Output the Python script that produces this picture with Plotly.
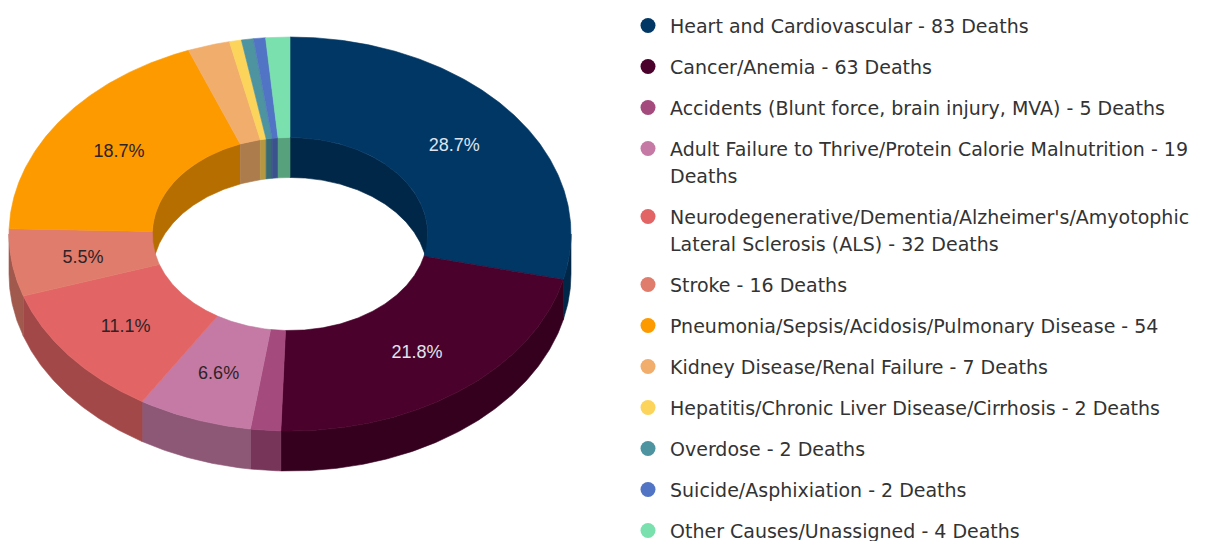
import numpy as np
import plotly.graph_objects as go

# ---------------- data ----------------
categories = [
    "Heart and Cardiovascular",
    "Cancer/Anemia",
    "Accidents (Blunt force, brain injury, MVA)",
    "Adult Failure to Thrive/Protein Calorie Malnutrition",
    "Neurodegenerative/Dementia/Alzheimer's/Amyotophic Lateral Sclerosis (ALS)",
    "Stroke",
    "Pneumonia/Sepsis/Acidosis/Pulmonary Disease",
    "Kidney Disease/Renal Failure",
    "Hepatitis/Chronic Liver Disease/Cirrhosis",
    "Overdose",
    "Suicide/Asphixiation",
    "Other Causes/Unassigned",
]
deaths = [83, 63, 5, 19, 32, 16, 54, 7, 2, 2, 2, 4]
legend_lines = [
    ["Heart and Cardiovascular - 83 Deaths"],
    ["Cancer/Anemia - 63 Deaths"],
    ["Accidents (Blunt force, brain injury, MVA) - 5 Deaths"],
    ["Adult Failure to Thrive/Protein Calorie Malnutrition - 19", "Deaths"],
    ["Neurodegenerative/Dementia/Alzheimer's/Amyotophic", "Lateral Sclerosis (ALS) - 32 Deaths"],
    ["Stroke - 16 Deaths"],
    ["Pneumonia/Sepsis/Acidosis/Pulmonary Disease - 54"],
    ["Kidney Disease/Renal Failure - 7 Deaths"],
    ["Hepatitis/Chronic Liver Disease/Cirrhosis - 2 Deaths"],
    ["Overdose - 2 Deaths"],
    ["Suicide/Asphixiation - 2 Deaths"],
    ["Other Causes/Unassigned - 4 Deaths"],
]
colors = ["#013764", "#4a012b", "#a44a7c", "#c57aa5", "#e26464", "#e07c6c",
          "#fd9a00", "#f1ad6b", "#fcd35b", "#4e94a0", "#5274c4", "#79e0ae"]

# ---------------- geometry (layout) ----------------
W, H = 1208, 541
PAD = 8  # default page body margin; axes ranges compensate so data units = page pixels
CX, CY = 290.0, 234.0
RX, RY = 281.0, 197.0
HOLE = 0.49
DEPTH = 40.0
SHADE = 0.72
LABEL_K = 0.745
LABEL_DY = 3.0
MIN_LABEL_PCT = 5.0


def darker(hexcol, f):
    h = hexcol.lstrip("#")
    r, g, b = (int(h[i:i + 2], 16) for i in (0, 2, 4))
    return "rgb(%d,%d,%d)" % (r * f, g * f, b * f)


def pt(theta_deg, k, dy=0.0):
    t = np.radians(theta_deg)
    return CX + k * RX * np.sin(t), CY - k * RY * np.cos(t) + dy


def arc(a0, a1, k, dy=0.0, n=None):
    if n is None:
        n = max(4, int(abs(a1 - a0) * 2) + 2)
    th = np.linspace(a0, a1, n)
    return pt(th, k, dy)


def overlap(a0, a1, b0, b1):
    s, e = max(a0, b0), min(a1, b1)
    return (s, e) if e > s else None


total = float(sum(deaths))
cum = np.concatenate([[0.0], np.cumsum(deaths)]) / total * 360.0

fig = go.Figure()


def add_poly(xs, ys, color):
    fig.add_trace(go.Scatter(
        x=list(xs) + [xs[0]], y=list(ys) + [ys[0]], mode="lines", fill="toself",
        fillcolor=color, line=dict(color=color, width=0.6),
        hoverinfo="skip", showlegend=False))


# 1) outer side walls (front half: 90..270 deg)
for i, c in enumerate(colors):
    ov = overlap(cum[i], cum[i + 1], 90.0, 270.0)
    if ov:
        x1, y1 = arc(ov[0], ov[1], 1.0)
        x2, y2 = arc(ov[1], ov[0], 1.0, DEPTH)
        add_poly(np.concatenate([x1, x2]), np.concatenate([y1, y2]), darker(c, SHADE))

# 2) inner walls (back half: 270..450 deg, i.e. -90..90)
for i, c in enumerate(colors):
    for b0, b1 in ((270.0, 450.0), (-90.0, 90.0)):
        ov = overlap(cum[i], cum[i + 1], b0, b1)
        if ov:
            x1, y1 = arc(ov[0], ov[1], HOLE)
            x2, y2 = arc(ov[1], ov[0], HOLE, DEPTH)
            add_poly(np.concatenate([x1, x2]), np.concatenate([y1, y2]), darker(c, SHADE))

# 3) top faces
for i, c in enumerate(colors):
    x1, y1 = arc(cum[i], cum[i + 1], 1.0)
    x2, y2 = arc(cum[i + 1], cum[i], HOLE)
    add_poly(np.concatenate([x1, x2]), np.concatenate([y1, y2]), c)

# 4) percentage labels
lx, ly, lt, lc = [], [], [], []
for i, v in enumerate(deaths):
    pct = v / total * 100
    if pct >= MIN_LABEL_PCT:
        mid = (cum[i] + cum[i + 1]) / 2
        x, y = pt(mid, LABEL_K, LABEL_DY)
        lx.append(x); ly.append(y); lt.append("%.1f%%" % pct)
        lc.append("#dfe4ee" if i < 2 else "#2e2326")
fig.add_trace(go.Scatter(
    x=lx, y=ly, text=lt, mode="text",
    textfont=dict(family="Liberation Sans, Arial, sans-serif", size=18, color=lc),
    hoverinfo="skip", showlegend=False))

# 5) legend (markers + text)
LEG_MX, LEG_TX = 648.0, 668.0
LEG_Y0, LEG_PITCH, LEG_LINE = 25.5, 41.0, 27.0
mx, my = [], []
y = LEG_Y0
for i, lines in enumerate(legend_lines):
    mx.append(LEG_MX); my.append(y)
    for j, line in enumerate(lines):
        fig.add_annotation(
            x=LEG_TX, y=y + j * LEG_LINE, xref="x", yref="y", text=line,
            showarrow=False, xanchor="left", yanchor="middle",
            font=dict(family="DejaVu Sans, sans-serif", size=19, color="#333333"))
    y += LEG_PITCH + LEG_LINE * (len(lines) - 1)
fig.add_trace(go.Scatter(
    x=mx, y=my, mode="markers",
    marker=dict(size=15, color=colors, line=dict(width=0)),
    hoverinfo="skip", showlegend=False))

fig.update_layout(
    width=W - PAD, height=H - PAD, margin=dict(l=0, r=0, t=0, b=0),
    paper_bgcolor="white", plot_bgcolor="white", showlegend=False,
    xaxis=dict(range=[PAD, W], visible=False, fixedrange=True),
    yaxis=dict(range=[H, PAD], visible=False, fixedrange=True),
)
fig.write_html("out.html")
